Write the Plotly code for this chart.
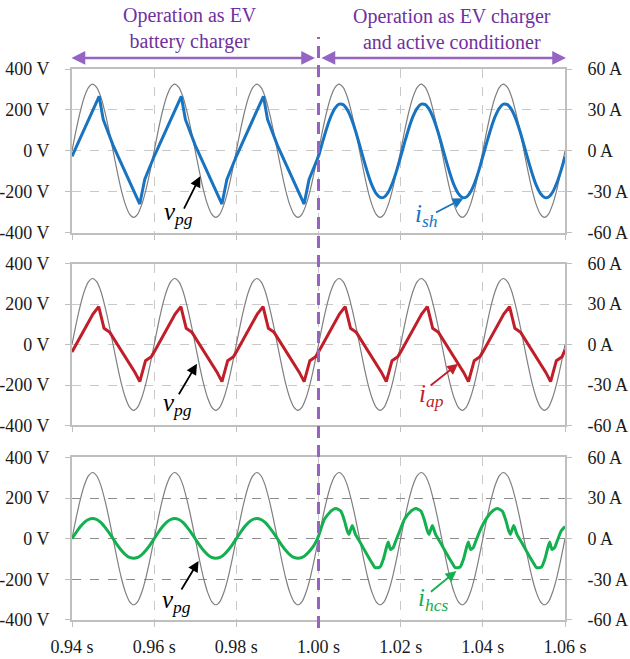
import plotly.graph_objects as go

# ---------------- data ----------------
# grid voltage v_pg sampled every 1 ms from 0.940 s to 1.060 s (V)
v_t_ms = list(range(940, 1061))
v_pg = [0, 101, 191, 263, 309, 326, 310, 264, 190, 100, 0, -101, -192, -263, -309, -325, -309, -262, -191, -101,
        0, 101, 191, 263, 309, 326, 310, 264, 190, 100, 0, -101, -192, -263, -309, -325, -309, -262, -191, -101,
        0, 101, 191, 263, 309, 326, 310, 264, 190, 100, 0, -101, -192, -263, -309, -325, -309, -262, -191, -101,
        0, 101, 191, 263, 309, 326, 310, 264, 190, 100, 0, -101, -192, -263, -309, -325, -309, -262, -191, -101,
        0, 101, 191, 263, 309, 326, 310, 264, 190, 100, 0, -101, -192, -263, -309, -325, -309, -262, -191, -101,
        0, 101, 191, 263, 309, 326, 310, 264, 190, 100, 0, -101, -192, -263, -309, -325, -309, -262, -191, -101,
        0]

# i_sh (A): battery-charger mode (break points) and conditioner mode (1 ms samples)
ish_t_charger = [0.9400, 0.9466, 0.9476, 0.9500, 0.9565, 0.9577,
                 0.9600, 0.9666, 0.9676, 0.9700, 0.9765, 0.9777,
                 0.9800, 0.9866, 0.9876, 0.9900, 0.9965, 0.9977, 1.0000]
ish_charger = [-4, 40, 23, 4, -39, -21,
               -4, 40, 23, 4, -39, -21,
               -4, 40, 23, 4, -39, -21, -4]
ish_t_ms_cond = list(range(1000, 1061))
ish_cond = [-4.3, 6.5, 16.6, 25.2, 31.2, 34.2, 33.9, 30.2, 23.6, 14.7, 4.3, -6.5, -16.6, -25.2, -31.2, -34.2, -33.9, -30.2, -23.6, -14.7,
            -4.3, 6.5, 16.6, 25.2, 31.2, 34.2, 33.9, 30.2, 23.6, 14.7, 4.3, -6.5, -16.6, -25.2, -31.2, -34.2, -33.9, -30.2, -23.6, -14.7,
            -4.3, 6.5, 16.6, 25.2, 31.2, 34.2, 33.9, 30.2, 23.6, 14.7, 4.3, -6.5, -16.6, -25.2, -31.2, -34.2, -33.9, -30.2, -23.6, -14.7,
            -4.3]

# i_ap (A): break points
iap_t = [0.9400, 0.9451, 0.9465, 0.9478, 0.9492, 0.9553, 0.9565, 0.9579, 0.9593,
         0.9600, 0.9651, 0.9665, 0.9678, 0.9692, 0.9753, 0.9765, 0.9779, 0.9793,
         0.9800, 0.9851, 0.9865, 0.9878, 0.9892, 0.9953, 0.9965, 0.9979, 0.9993,
         1.0000, 1.0051, 1.0065, 1.0078, 1.0092, 1.0153, 1.0165, 1.0179, 1.0193,
         1.0200, 1.0251, 1.0265, 1.0278, 1.0292, 1.0353, 1.0365, 1.0379, 1.0393,
         1.0400, 1.0451, 1.0465, 1.0478, 1.0492, 1.0553, 1.0565, 1.0579, 1.0593,
         1.0600]
iap = [-5.5, 22.5, 28, 12, 9, -20.5, -27.5, -12, -9,
       -5.5, 22.5, 28, 12, 9, -20.5, -27.5, -12, -9,
       -5.5, 22.5, 28, 12, 9, -20.5, -27.5, -12, -9,
       -5.5, 22.5, 28, 12, 9, -20.5, -27.5, -12, -9,
       -5.5, 22.5, 28, 12, 9, -20.5, -27.5, -12, -9,
       -5.5, 22.5, 28, 12, 9, -20.5, -27.5, -12, -9,
       -4]

# i_hcs (A): 1 ms samples before 1.00 s, break points afterwards
ihcs_t = [0.940, 0.941, 0.942, 0.943, 0.944, 0.945, 0.946, 0.947, 0.948, 0.949,
          0.950, 0.951, 0.952, 0.953, 0.954, 0.955, 0.956, 0.957, 0.958, 0.959,
          0.960, 0.961, 0.962, 0.963, 0.964, 0.965, 0.966, 0.967, 0.968, 0.969,
          0.970, 0.971, 0.972, 0.973, 0.974, 0.975, 0.976, 0.977, 0.978, 0.979,
          0.980, 0.981, 0.982, 0.983, 0.984, 0.985, 0.986, 0.987, 0.988, 0.989,
          0.990, 0.991, 0.992, 0.993, 0.994, 0.995, 0.996, 0.997, 0.998, 0.999,
          1.00000, 1.00143, 1.00303, 1.00422, 1.00542, 1.00622, 1.00701, 1.00741, 1.00821, 1.00900,
          1.01020, 1.01179, 1.01299, 1.01378, 1.01498, 1.01578, 1.01641, 1.01697, 1.01753, 1.01817,
          1.01880, 1.01976,
          1.02093, 1.02253, 1.02372, 1.02492, 1.02572, 1.02651, 1.02691, 1.02771, 1.02850,
          1.02970, 1.03129, 1.03249, 1.03328, 1.03448, 1.03528, 1.03591, 1.03647, 1.03703, 1.03767,
          1.03830, 1.03926,
          1.04073, 1.04233, 1.04352, 1.04472, 1.04552, 1.04631, 1.04671, 1.04751, 1.04830,
          1.04950, 1.05109, 1.05229, 1.05308, 1.05428, 1.05508, 1.05571, 1.05627, 1.05683, 1.05747,
          1.05810, 1.05906, 1.06000]
ihcs = [0, 4.6, 8.8, 12.1, 14.2, 15.0, 14.2, 12.0, 8.6, 4.5,
        0, -4.5, -8.5, -11.7, -13.8, -14.5, -13.8, -11.7, -8.5, -4.5,
        0, 4.6, 8.8, 12.1, 14.2, 15.0, 14.2, 12.0, 8.6, 4.5,
        0, -4.5, -8.5, -11.7, -13.8, -14.5, -13.8, -11.7, -8.5, -4.5,
        0, 4.6, 8.8, 12.1, 14.2, 15.0, 14.2, 12.0, 8.6, 4.5,
        0, -4.5, -8.5, -11.7, -13.8, -14.5, -13.8, -11.7, -8.5, -4.5,
        2.0, 14.3, 20.4, 22.4, 20.4, 14.3, 5.7, 3.2, 9.8, 3.2,
        -3.0, -11.6, -17.7, -21.4, -20.9, -15.2, -7.9, -2.5, -7.9, -6.6,
        -1.7, 5.7,
        14.3, 20.4, 22.4, 20.4, 14.3, 5.7, 3.2, 9.8, 3.2,
        -3.0, -11.6, -17.7, -21.4, -20.9, -15.2, -7.9, -2.5, -7.9, -6.6,
        -1.7, 5.7,
        14.3, 20.4, 22.4, 20.4, 14.3, 5.7, 3.2, 9.8, 3.2,
        -3.0, -11.6, -17.7, -21.4, -20.9, -15.2, -7.9, -2.5, -7.9, -6.6,
        -1.7, 5.7, 9.0]

x_ticks = [0.94, 0.96, 0.98, 1.00, 1.02, 1.04, 1.06]
x_ticktext = ["0.94 s", "0.96 s", "0.98 s", "1.00 s", "1.02 s", "1.04 s", "1.06 s"]
v_ticks = [-400, -200, 0, 200, 400]
v_ticktext = ["-400 V", "-200 V", "0 V", "200 V", "400 V"]
a_ticks = [-60, -30, 0, 30, 60]
a_ticktext = ["-60 A", "-30 A", "0 A", "30 A", "60 A"]

# ---------------- styling ----------------
FONT = "Liberation Serif"
GRAY = "#7f7f7f"
AXC = "#bfbfbf"
GRIDC = "#c9c9c9"
BLUE = "#1874c0"
RED = "#c01f2a"
GREEN = "#12b04e"
PURPLE_T = "#7030a0"
PURPLE_L = "#9563c1"

v_t = [m / 1000 for m in v_t_ms]
ish_t_cond = [m / 1000 for m in ish_t_ms_cond]

fig = go.Figure()

panels = [("x", "y", "y2"), ("x2", "y3", "y4"), ("x3", "y5", "y6")]
for xa, yl, yr in panels:
    fig.add_trace(go.Scatter(x=v_t, y=v_pg, xaxis=xa, yaxis=yl, mode="lines",
                             line=dict(color=GRAY, width=1.2, shape="spline", smoothing=0.6),
                             showlegend=False, hoverinfo="skip"))

fig.add_trace(go.Scatter(x=ish_t_charger, y=ish_charger, xaxis="x", yaxis="y2", mode="lines",
                         line=dict(color=BLUE, width=3), showlegend=False))
fig.add_trace(go.Scatter(x=ish_t_cond, y=ish_cond, xaxis="x", yaxis="y2", mode="lines",
                         line=dict(color=BLUE, width=3, shape="spline", smoothing=0.6), showlegend=False))
fig.add_trace(go.Scatter(x=iap_t, y=iap, xaxis="x2", yaxis="y4", mode="lines",
                         line=dict(color=RED, width=3), showlegend=False))
fig.add_trace(go.Scatter(x=ihcs_t, y=ihcs, xaxis="x3", yaxis="y6", mode="lines",
                         line=dict(color=GREEN, width=3, shape="spline", smoothing=0.5), showlegend=False))

tickfont = dict(family=FONT, size=18, color="#1a1a1a")

def xaxis_cfg(anchor, labels):
    return dict(domain=[0, 1], anchor=anchor, range=[0.94, 1.06], tickvals=x_ticks, ticktext=x_ticktext,
                showticklabels=labels, ticks="outside", ticklen=5, tickcolor=AXC, tickwidth=1,
                showline=True, linecolor=AXC, linewidth=2, mirror=True, automargin=False,
                showgrid=True, gridcolor=GRIDC, griddash="dash", gridwidth=1, zeroline=False,
                tickfont=tickfont, ticklabelstandoff=4)

def yleft_cfg(domain, anchor, gridc):
    return dict(domain=domain, anchor=anchor, range=[-400, 400], tickvals=v_ticks, ticktext=v_ticktext,
                ticks="outside", ticklen=5, tickcolor=AXC, showline=True, linecolor=AXC, linewidth=2,
                showgrid=True, gridcolor=gridc, griddash="dash", gridwidth=1, zeroline=False,
                tickfont=tickfont, ticklabelstandoff=12, automargin=False)

def yright_cfg(over, anchor):
    return dict(overlaying=over, anchor=anchor, side="right", range=[-60, 60], tickvals=a_ticks,
                ticktext=a_ticktext, ticks="outside", ticklen=5, tickcolor=AXC, showline=True,
                linecolor=AXC, linewidth=2, showgrid=False, zeroline=False, tickfont=tickfont,
                ticklabelstandoff=12, automargin=False)

d1, d2, d3 = [0.703, 1.0], [0.353, 0.647], [0.0, 0.295]
fig.update_layout(
    width=630, height=659, margin=dict(l=72, r=65, t=69, b=39, autoexpand=False),
    paper_bgcolor="white", plot_bgcolor="white", showlegend=False,
    font=dict(family=FONT, color="#1a1a1a"),
    xaxis=xaxis_cfg("y", False), xaxis2=xaxis_cfg("y3", False), xaxis3=xaxis_cfg("y5", True),
    yaxis=yleft_cfg(d1, "x", GRIDC), yaxis2=yright_cfg("y", "x"),
    yaxis3=yleft_cfg(d2, "x2", GRIDC), yaxis4=yright_cfg("y3", "x2"),
    yaxis5=yleft_cfg(d3, "x3", "#8c8c8c"), yaxis6=yright_cfg("y5", "x3"),
)

# purple dashed separator at 1.00 s
fig.add_shape(type="line", xref="x", yref="paper", x0=1.0, x1=1.0, y0=-0.0145, y1=1.058,
              line=dict(color=PURPLE_L, width=3, dash="12px,7px"))

ann = []
# top captions
ann.append(dict(xref="paper", yref="paper", x=0.2394, y=1.0726, showarrow=False, xanchor="center",
                yanchor="middle", text="Operation as EV<br>battery charger", align="center",
                font=dict(family=FONT, size=20, color=PURPLE_T)))
ann.append(dict(xref="paper", yref="paper", x=0.7708, y=1.0726, showarrow=False, xanchor="center",
                yanchor="middle", text="Operation as EV charger<br>and active conditioner", align="center",
                font=dict(family=FONT, size=20, color=PURPLE_T)))
# double headed arrows
for xh, axp in [(0.4929, -245), (1.002, -246)]:
    ann.append(dict(xref="paper", yref="paper", x=xh, y=1.02, ax=axp, ay=0, axref="pixel", ayref="pixel",
                    text="", showarrow=True, arrowside="end+start", arrowhead=2, arrowsize=1.1,
                    arrowwidth=2.5, arrowcolor=PURPLE_L))

# in-panel labels and pointer arrows
labels = [
    ("x", "y", 0.96584, -306, "<i>v<sub>pg</sub></i>", "black", 0.97122, -124, -17, 34),
    ("x", "y", 1.02624, -316, "<i>i<sub>sh</sub></i>", BLUE, 1.03528, -232, -29, 15),
    ("x2", "y3", 0.9656, -296, "<i>v<sub>pg</sub></i>", "black", 0.97042, -95, -19, 32),
    ("x2", "y3", 1.0274, -252, "<i>i<sub>ap</sub></i>", RED, 1.03398, -95, -29, 23),
    ("x3", "y5", 0.96535, -308, "<i>v<sub>pg</sub></i>", "black", 0.97081, -110, -18, 30),
    ("x3", "y5", 1.0279, -298, "<i>i<sub>hcs</sub></i>", GREEN, 1.03357, -159, -27, 22),
]
for xr, yr, tx, ty, txt, col, hx, hy, dx, dy in labels:
    ann.append(dict(xref=xr, yref=yr, x=tx, y=ty, text=txt, showarrow=False,
                    font=dict(family=FONT, size=25, color=col)))
    ann.append(dict(xref=xr, yref=yr, x=hx, y=hy, ax=dx, ay=dy, axref="pixel", ayref="pixel",
                    text="", showarrow=True, arrowhead=2, arrowsize=1.2, arrowwidth=1.8,
                    arrowcolor=col))

fig.update_layout(annotations=ann)
fig.write_html("out.html", config={"displayModeBar": False},
               post_script="document.body.style.margin='0';document.body.style.overflow='hidden';")
